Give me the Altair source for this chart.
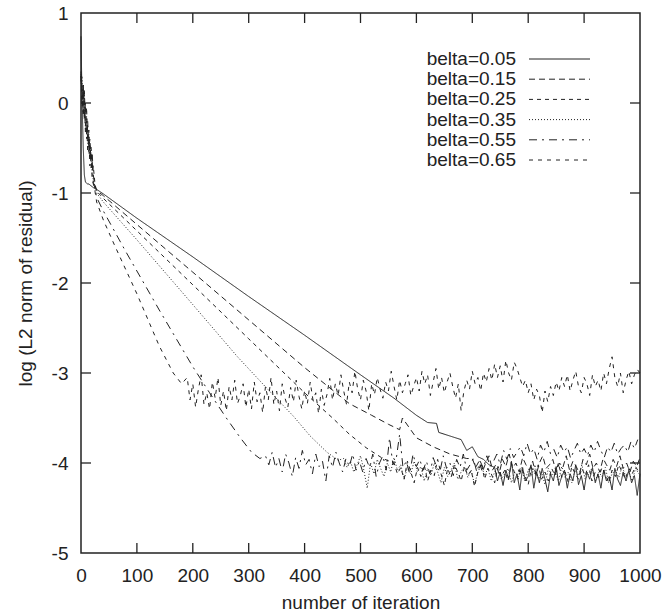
import altair as alt
import pandas as pd

# ---------------- data ----------------
series_names = ["belta=0.05", "belta=0.15", "belta=0.25", "belta=0.35", "belta=0.55", "belta=0.65"]

# initial transient (shared iteration grid)
head_x = [0, 2, 4, 6, 8, 10, 12, 14, 16, 18, 20, 22, 25, 28]
head_y_005 = [0.74, 0.0, -0.5, -0.8, -0.88, -0.89, -0.9, -0.9, -0.91, -0.92, -0.93, -0.94, -0.95, -0.96]
head_y_015 = [0.3, 0.05, 0.22, -0.15, 0.0, -0.35, -0.2, -0.5, -0.4, -0.65, -0.55, -0.8, -0.92, -0.97]
head_y_025 = [0.35, 0.1, -0.1, 0.15, -0.25, -0.05, -0.42, -0.3, -0.6, -0.48, -0.75, -0.7, -0.9, -0.98]
head_y_035 = [0.25, 0.3, -0.05, 0.1, -0.3, -0.15, -0.45, -0.35, -0.62, -0.55, -0.8, -0.85, -0.93, -1.0]
head_y_055 = [0.3, -0.05, 0.2, -0.2, -0.05, -0.4, -0.25, -0.58, -0.45, -0.72, -0.65, -0.88, -0.95, -1.05]
head_y_065 = [0.32, 0.1, -0.15, 0.05, -0.35, -0.2, -0.55, -0.4, -0.7, -0.6, -0.85, -0.9, -0.98, -1.1]

# decay segments
dec_x_005 = [40, 100, 200, 300, 400, 500, 560, 600, 620, 636, 640, 660, 680, 690, 700, 710, 720, 730]
dec_y_005 = [-1.01, -1.28, -1.71, -2.15, -2.58, -3.02, -3.28, -3.47, -3.55, -3.56, -3.66, -3.7, -3.74, -3.86, -3.82, -3.93, -3.96, -4.02]
dec_x_015 = [40, 100, 200, 300, 400, 480, 520, 550, 570, 575, 600, 630, 660, 690]
dec_y_015 = [-1.03, -1.35, -1.88, -2.41, -2.94, -3.34, -3.47, -3.57, -3.63, -3.5, -3.72, -3.82, -3.9, -3.95]
dec_x_025 = [40, 100, 200, 300, 400, 450, 480, 510, 540]
dec_y_025 = [-1.06, -1.42, -2.02, -2.62, -3.22, -3.5, -3.68, -3.83, -3.95]
dec_x_035 = [40, 100, 200, 280, 340, 380, 410, 440, 460]
dec_y_035 = [-1.1, -1.52, -2.24, -2.82, -3.22, -3.48, -3.7, -3.88, -3.97]
dec_x_055 = [40, 80, 140, 200, 230, 260, 285, 305, 320]
dec_y_055 = [-1.2, -1.65, -2.3, -2.93, -3.22, -3.5, -3.72, -3.88, -3.95]
dec_x_065 = [40, 60, 100, 140, 165, 180]
dec_y_065 = [-1.3, -1.58, -2.12, -2.7, -3.0, -3.12]

# noisy floors: start iteration, step, values
floor_005 = (740, 5, [-4.05, -4.2, -4.1, -4.25, -4.08, -4.18, -3.98, -4.22, -4.12, -4.3,
                      -4.05, -4.2, -4.15, -4.02, -4.28, -4.1, -4.22, -4.06, -4.18, -4.32,
                      -4.12, -4.2, -4.04, -4.25, -4.15, -4.08, -4.28, -4.12, -4.2, -4.02,
                      -4.24, -4.14, -4.3, -4.1, -4.18, -4.05, -4.22, -4.12, -4.28, -4.08,
                      -4.2, -4.15, -4.3, -4.06, -4.18, -4.25, -4.1, -4.2, -4.08, -4.22,
                      -4.14, -4.36, -4.12])
floor_015 = (700, 6, [-3.95, -4.05, -3.98, -4.1, -4.0, -3.92, -4.08, -4.02, -4.12, -3.96,
                      -4.04, -3.9, -4.06, -4.0, -4.1, -3.94, -4.02, -4.08, -3.98, -4.14,
                      -4.0, -3.92, -4.06, -4.02, -3.96, -4.1, -4.0, -4.05, -3.92, -4.08,
                      -3.98, -4.04, -4.12, -3.96, -4.02, -3.9, -4.06, -4.0, -4.1, -3.95,
                      -4.02, -4.08, -3.96, -4.04, -3.92, -4.06, -4.0, -4.1, -3.98, -4.04, -3.94])
floor_025 = (560, 6, [-4.0, -4.12, -4.05, -4.18, -3.98, -4.1, -4.22, -4.05, -4.15, -4.02,
                      -4.2, -4.08, -4.14, -3.96, -4.12, -4.25, -4.06, -4.16, -4.02, -4.1,
                      -4.2, -4.04, -4.14, -4.08, -4.26, -4.1, -4.0, -4.18, -4.06, -4.12,
                      -4.22, -4.04, -4.15, -4.08, -4.2, -4.0, -4.12, -4.18, -4.06, -4.14,
                      -4.24, -4.05, -4.12, -4.02, -4.18, -4.1, -4.2, -4.06, -4.14, -4.0,
                      -4.16, -4.1, -4.22, -4.04, -4.12, -4.18, -4.06, -4.14, -4.02, -4.2,
                      -4.1, -4.16, -4.05, -4.12, -4.22, -4.08, -4.15, -4.02, -4.1, -4.18,
                      -4.06, -4.12, -4.04, -4.1])
floor_035 = (470, 6, [-3.95, -4.05, -3.98, -4.1, -4.02, -3.92, -4.08, -4.28, -4.0, -4.12,
                      -3.96, -4.06, -4.15, -4.0, -4.1, -3.94, -4.08, -4.02, -4.18, -4.05,
                      -4.12, -3.98, -4.1, -4.04, -4.2, -4.06, -4.14, -4.0, -4.1, -4.22,
                      -4.05, -4.15, -4.08, -4.0, -4.18, -4.1, -4.04, -4.16, -4.08, -4.24,
                      -4.1, -4.02, -4.14, -4.06, -4.2, -4.1, -4.04, -4.18, -4.12, -4.06,
                      -4.22, -4.1, -4.15, -4.05, -4.2, -4.08, -4.14, -4.02, -4.18, -4.1,
                      -4.24, -4.06, -4.14, -4.1, -4.2, -4.04, -4.16, -4.1, -4.22, -4.08,
                      -4.14, -4.02, -4.18, -4.12, -4.06, -4.2, -4.1, -4.15, -4.05, -4.22,
                      -4.12, -4.08, -4.16, -4.04, -4.14, -4.1, -4.2, -4.06, -4.12])
floor_055 = (330, 6, [-3.92, -4.02, -3.88, -4.05, -3.95, -4.1, -3.9, -4.0, -4.15, -3.94,
                      -4.06, -3.86, -4.02, -3.96, -4.12, -3.9, -4.04, -3.98, -4.2, -3.92,
                      -4.05, -3.88, -4.0, -4.1, -3.95, -4.04, -3.9, -4.08, -3.98,
                      -4.1, -3.95, -4.05, -3.9, -4.15, -4.0, -3.92, -4.08, -3.72, -4.02,
                      -3.95, -3.68, -4.05, -3.98, -4.12, -3.9, -4.04,
                      -3.96, -4.08, -3.98, -4.12, -3.94, -4.04, -4.1, -3.92, -4.06, -4.0,
                      -4.14, -3.96, -4.05, -3.9, -4.08, -4.02, -3.95, -4.1, -3.98, -4.06,
                      -3.92, -4.04, -3.98, -3.9, -4.02, -3.86, -3.96, -3.84, -3.94, -3.88,
                      -3.82, -3.92, -3.78, -3.9, -3.84, -3.96, -3.8, -3.88, -3.76, -3.9,
                      -3.85, -3.94, -3.8, -3.88, -3.82, -3.95, -3.86, -3.78, -3.9, -3.84,
                      -3.92, -3.8, -3.88, -3.76, -3.86, -3.94, -3.82, -3.88, -3.78, -3.9,
                      -3.84, -3.8, -3.88, -3.76, -3.84, -3.74])
floor_065 = (190, 5, [-3.05, -3.3, -3.12, -3.38, -3.18, -3.02, -3.35, -3.22, -3.4, -3.1,
                      -3.28, -3.05, -3.36, -3.2, -3.42, -3.15, -3.3, -3.08, -3.34, -3.25, -3.12, -3.38,
                      -3.18, -3.4, -3.1, -3.32, -3.22, -3.44, -3.15, -3.3, -3.05, -3.35,
                      -3.2, -3.42, -3.12, -3.28, -3.38, -3.16, -3.32, -3.08, -3.26, -3.4,
                      -3.2, -3.34, -3.1, -3.3, -3.22, -3.45, -3.18, -3.36, -3.24, -3.06,
                      -3.3, -3.12, -3.25, -3.02, -3.2, -3.35, -3.1, -3.22, -2.98, -3.18,
                      -3.3, -3.08, -3.2, -3.42, -3.12, -3.24, -3.05, -3.18, -3.28, -3.1,
                      -3.2, -2.98, -3.15, -3.3, -3.08, -3.22, -3.12, -3.02, -3.25, -3.15,
                      -3.05, -3.2, -2.98, -3.12, -3.02, -3.25, -3.1, -2.95, -3.18, -3.05,
                      -3.22, -3.1, -3.0, -3.15, -3.28, -3.12, -3.42, -3.2, -3.08, -3.18,
                      -2.98, -3.12, -3.05, -3.2, -3.0, -3.1, -2.95, -3.08, -2.9, -3.05,
                      -2.92, -3.1, -2.86, -3.0, -3.08, -2.88,
                      -2.95, -3.05, -3.15, -3.08, -3.22, -3.12, -3.3, -3.18, -3.25, -3.44,
                      -3.2, -3.32, -3.15, -3.25, -3.1, -3.2, -3.05,
                      -3.15, -3.02, -3.2, -3.08, -2.98, -3.15, -3.22, -3.05, -3.12, -3.25,
                      -3.02, -3.15, -3.08, -3.2, -3.0, -3.12, -2.95, -2.82, -3.05, -3.15,
                      -3.0, -3.22, -3.08, -2.98, -3.12, -3.02, -2.96, -3.0])

x_tick_values = [0, 100, 200, 300, 400, 500, 600, 700, 800, 900, 1000]
y_tick_values = [-5, -4, -3, -2, -1, 0, 1]

dash_patterns = [[1, 0], [6, 4], [4, 4], [1, 2], [8, 5, 2, 5], [4, 5]]

# ---------------- build table ----------------
parts = [
    (head_y_005, dec_x_005, dec_y_005, floor_005),
    (head_y_015, dec_x_015, dec_y_015, floor_015),
    (head_y_025, dec_x_025, dec_y_025, floor_025),
    (head_y_035, dec_x_035, dec_y_035, floor_035),
    (head_y_055, dec_x_055, dec_y_055, floor_055),
    (head_y_065, dec_x_065, dec_y_065, floor_065),
]
rows = []
for name, (hy, dx, dy, fl) in zip(series_names, parts):
    xs = list(head_x) + list(dx)
    ys = list(hy) + list(dy)
    start, step, vals = fl
    for i, v in enumerate(vals):
        xx = start + step * i
        if xx <= 1000:
            xs.append(xx)
            ys.append(v)
    for a, b in zip(xs, ys):
        rows.append({"series": name, "iter": a, "val": b})
df = pd.DataFrame(rows)
legend_df = pd.DataFrame({"series": series_names})

FONT = "Liberation Sans"
INK = "#222222"
W, H = 559, 540

xscale = alt.Scale(domain=[0, 1000], nice=False, zero=False)
yscale = alt.Scale(domain=[-5, 1], nice=False, zero=False)
dash_scale = alt.Scale(domain=series_names, range=dash_patterns)

lines = alt.Chart(df).mark_line(strokeWidth=1, color=INK).encode(
    x=alt.X("iter:Q", scale=xscale,
            axis=alt.Axis(values=x_tick_values, format="d", title="number of iteration", grid=False,
                          ticks=False, domain=False, labelPadding=13, titlePadding=8,
                          labelFlush=False, labelOverlap=False,
                          labelFont=FONT, labelFontSize=19, labelColor=INK,
                          titleFont=FONT, titleFontSize=19, titleFontWeight="normal", titleColor=INK)),
    y=alt.Y("val:Q", scale=yscale,
            axis=alt.Axis(values=y_tick_values, title="log (L2 norm of residual)", grid=False,
                          labelExpr="datum.value < 0 ? '-' + (-datum.value) : '' + datum.value",
                          ticks=False, domain=False, labelPadding=13, titlePadding=16,
                          labelFlush=False, labelOverlap=False,
                          labelFont=FONT, labelFontSize=19, labelColor=INK,
                          titleFont=FONT, titleFontSize=19, titleFontWeight="normal", titleColor=INK)),
    strokeDash=alt.StrokeDash("series:N", scale=dash_scale, legend=None),
    order=alt.Order("iter:Q"),
)

# hand-built key (gnuplot style: text right-aligned, sample line to its right)
key_y = alt.Y("series:N", scale=alt.Scale(type="point", domain=series_names, range=[46, 147], padding=0),
              axis=None)
key_text = alt.Chart(legend_df).mark_text(
    align="right", baseline="middle", font=FONT, fontSize=19, color=INK
).encode(x=alt.value(435), y=key_y, text="series:N")
key_line = alt.Chart(legend_df).mark_rule(strokeWidth=1, color=INK).encode(
    x=alt.value(448), x2=alt.value(509), y=key_y,
    strokeDash=alt.StrokeDash("series:N", scale=dash_scale, legend=None),
)

xt = pd.DataFrame({"v": x_tick_values[1:-1]})
yt = pd.DataFrame({"v": y_tick_values[1:-1]})
TL = 10
tick_bottom = alt.Chart(xt).mark_rule(color=INK, strokeWidth=1.3).encode(
    x=alt.X("v:Q", scale=xscale), y=alt.value(H), y2=alt.value(H - TL))
tick_top = alt.Chart(xt).mark_rule(color=INK, strokeWidth=1.3).encode(
    x=alt.X("v:Q", scale=xscale), y=alt.value(0), y2=alt.value(TL))
tick_left = alt.Chart(yt).mark_rule(color=INK, strokeWidth=1.3).encode(
    y=alt.Y("v:Q", scale=yscale, axis=None), x=alt.value(0), x2=alt.value(TL))
tick_right = alt.Chart(yt).mark_rule(color=INK, strokeWidth=1.3).encode(
    y=alt.Y("v:Q", scale=yscale, axis=None), x=alt.value(W), x2=alt.value(W - TL))

chart = alt.layer(lines, tick_bottom, tick_top, tick_left, tick_right, key_text, key_line).resolve_scale(
    y="independent"
).properties(
    width=W, height=H,
    background="white",
    autosize=alt.AutoSizeParams(type="none"),
    padding={"left": 81, "top": 13, "right": 24, "bottom": 63},
).configure_view(
    stroke=INK, strokeWidth=1.5
)

chart.save("out.html", embed_options={"renderer": "svg", "actions": False})
